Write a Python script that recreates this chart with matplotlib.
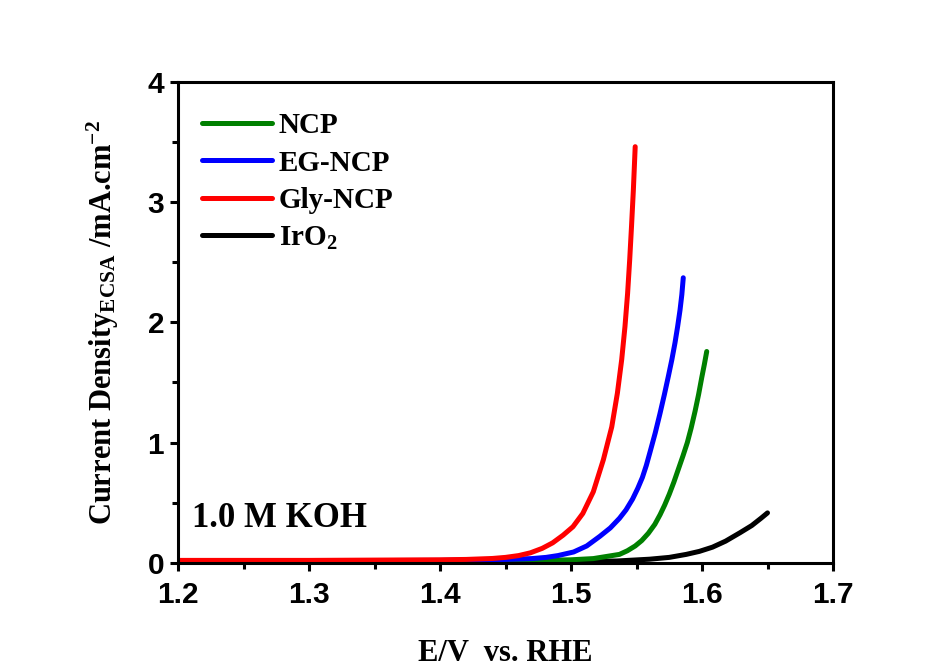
import numpy as np
import matplotlib
matplotlib.use('Agg')
import matplotlib.pyplot as plt
from matplotlib.ticker import MultipleLocator

plt.rcParams['mathtext.fontset'] = 'custom'
plt.rcParams['mathtext.rm'] = 'Liberation Serif:bold'
plt.rcParams['mathtext.default'] = 'rm'

# LSV data (E in V vs RHE, j in mA/cm2)
E_ncp = [1.20, 1.45, 1.50, 1.517, 1.537, 1.543, 1.549, 1.554, 1.559, 1.564, 1.568,
         1.5715, 1.575, 1.5785, 1.582, 1.5855, 1.5888, 1.5917, 1.5947, 1.5974, 1.5998,
         1.6018, 1.6036]
j_ncp = [0.01, 0.015, 0.025, 0.035, 0.07, 0.10, 0.14, 0.185, 0.245, 0.32, 0.40,
         0.48, 0.57, 0.67, 0.78, 0.89, 1.00, 1.12, 1.26, 1.40, 1.54,
         1.65, 1.757]

E_eg = [1.20, 1.40, 1.45, 1.47, 1.481, 1.49, 1.502, 1.512, 1.522, 1.53, 1.537, 1.542,
        1.547, 1.551, 1.5545, 1.5575, 1.5603, 1.5643, 1.5679, 1.5713, 1.5743, 1.577,
        1.5794, 1.5814, 1.5832, 1.5846, 1.5857]
j_eg = [0.015, 0.02, 0.028, 0.035, 0.045, 0.06, 0.09, 0.14, 0.22, 0.29, 0.37, 0.44,
        0.53, 0.62, 0.71, 0.81, 0.92, 1.08, 1.24, 1.40, 1.55, 1.69,
        1.83, 1.965, 2.10, 2.23, 2.37]

E_gly = [1.20, 1.30, 1.40, 1.42, 1.44, 1.45, 1.46, 1.469, 1.478, 1.486, 1.494, 1.5015,
         1.509, 1.517, 1.5247, 1.5311, 1.5354, 1.5387, 1.5412, 1.5432, 1.5448, 1.5462,
         1.5476, 1.549]
j_gly = [0.02, 0.02, 0.025, 0.028, 0.036, 0.045, 0.06, 0.083, 0.12, 0.166, 0.23, 0.30,
         0.41, 0.59, 0.857, 1.13, 1.41, 1.69, 1.965, 2.24, 2.52, 2.80,
         3.10, 3.46]

E_iro2 = [1.20, 1.50, 1.535, 1.56, 1.575, 1.588, 1.598, 1.608, 1.618, 1.629, 1.638,
          1.645, 1.650]
j_iro2 = [0.005, 0.01, 0.015, 0.03, 0.045, 0.07, 0.095, 0.13, 0.18, 0.25, 0.31,
          0.37, 0.415]

fig = plt.figure(figsize=(9.52, 6.7), dpi=100)
ax = fig.add_axes([0.187, 0.160, 0.688, 0.718])

lw = 3.6
l_ir, = ax.plot(E_iro2, j_iro2, color='black', lw=lw, solid_capstyle='round')
l_ncp, = ax.plot(E_ncp, j_ncp, color='#008000', lw=lw, solid_capstyle='round')
l_eg, = ax.plot(E_eg, j_eg, color='#0000ff', lw=lw, solid_capstyle='round')
l_gly, = ax.plot(E_gly, j_gly, color='#ff0000', lw=lw, solid_capstyle='round')

ax.set_xlim(1.2, 1.7)
ax.set_ylim(0, 4)
ax.xaxis.set_major_locator(MultipleLocator(0.1))
ax.xaxis.set_minor_locator(MultipleLocator(0.05))
ax.yaxis.set_major_locator(MultipleLocator(1))
ax.yaxis.set_minor_locator(MultipleLocator(0.5))
ax.set_xticks(np.arange(1.2, 1.71, 0.1))
ax.set_xticklabels(['1.2', '1.3', '1.4', '1.5', '1.6', '1.7'])

for s in ax.spines.values():
    s.set_linewidth(2.2)
ax.tick_params(which='both', direction='out', width=2.2, top=False, right=False)
ax.tick_params(which='major', length=6)
ax.tick_params(which='minor', length=4.5)
ax.tick_params(axis='x', which='major', pad=7)
ax.tick_params(axis='y', which='major', pad=4)
for lab in ax.get_xticklabels() + ax.get_yticklabels():
    lab.set_fontfamily('Liberation Sans')
    lab.set_fontweight('bold')
    lab.set_fontsize(21.5)

ax.set_xlabel('E/V  vs. RHE', fontfamily='Liberation Serif', fontweight='bold',
              fontsize=22, labelpad=22)
ax.set_ylabel(r'Current Density$_{\mathrm{ECSA}}$ /mA.cm$^{-2}$',
              fontfamily='Liberation Serif', fontweight='bold', fontsize=22, labelpad=19)

leg = ax.legend([l_ncp, l_eg, l_gly, l_ir], ['NCP', 'EG-NCP', 'Gly-NCP', r'IrO$_2$'],
                loc='upper left', bbox_to_anchor=(0.037, 0.937), frameon=False,
                borderpad=0, borderaxespad=0, handlelength=2.4, handletextpad=0.22,
                labelspacing=0.36, prop={'family': 'Liberation Serif', 'weight': 'bold',
                                         'size': 21})

ax.text(0.022, 0.075, '1.0 M KOH', transform=ax.transAxes, fontfamily='Liberation Serif',
        fontweight='bold', fontsize=25)

fig.savefig('out.png', dpi=100)
